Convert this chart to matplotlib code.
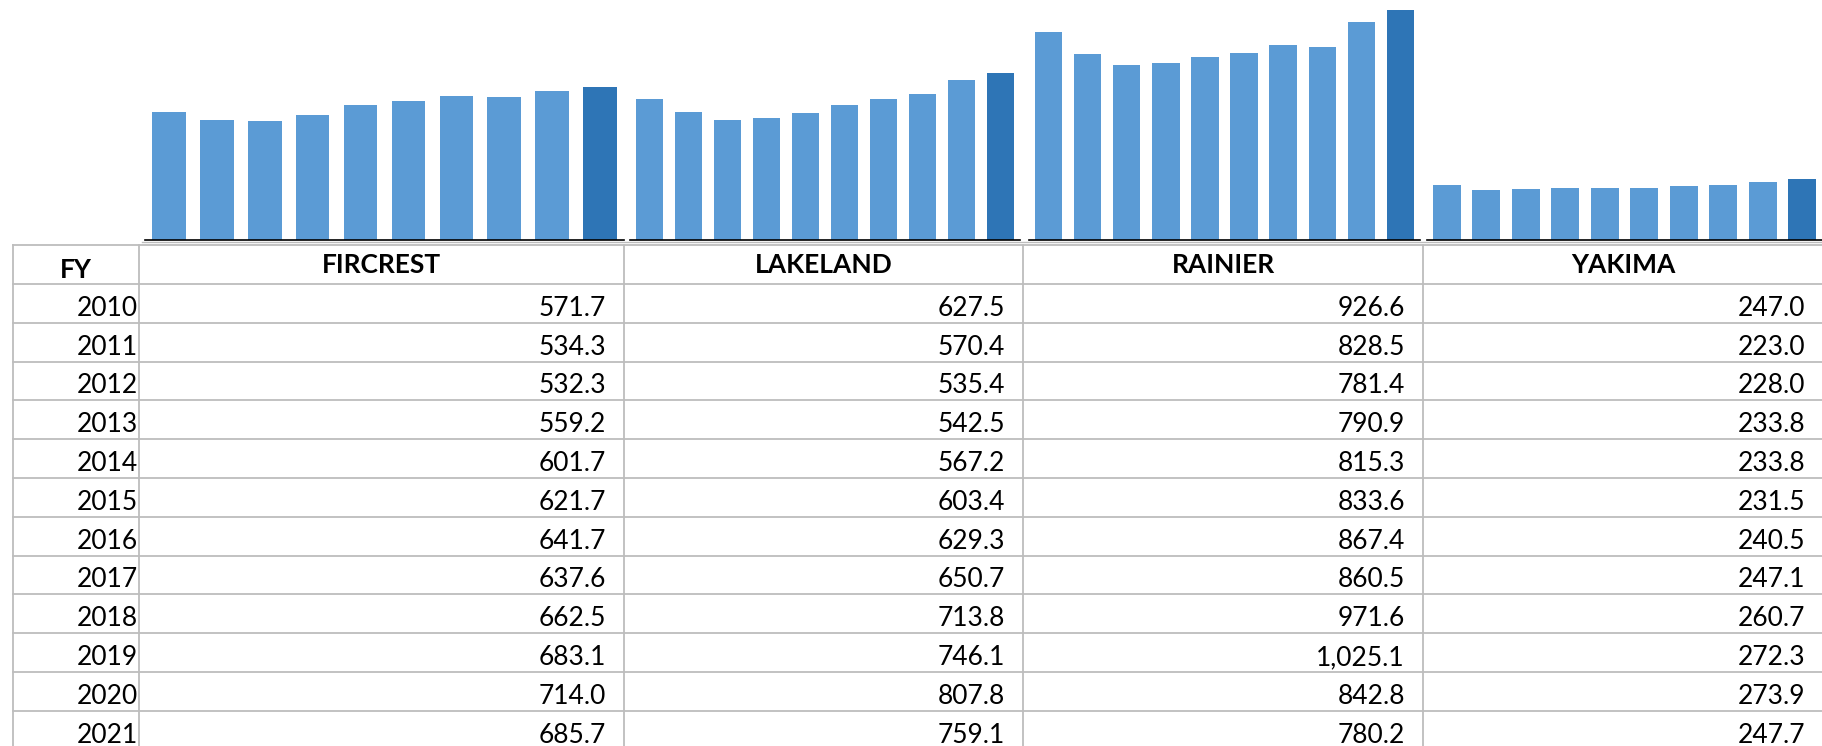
import matplotlib
matplotlib.use("Agg")
import matplotlib.pyplot as plt

# table / chart values
years = [2010, 2011, 2012, 2013, 2014, 2015, 2016, 2017, 2018, 2019, 2020, 2021]
sites = ["FIRCREST", "LAKELAND", "RAINIER", "YAKIMA"]
fircrest = [571.7, 534.3, 532.3, 559.2, 601.7, 621.7, 641.7, 637.6, 662.5, 683.1, 714.0, 685.7]
lakeland = [627.5, 570.4, 535.4, 542.5, 567.2, 603.4, 629.3, 650.7, 713.8, 746.1, 807.8, 759.1]
rainier = [926.6, 828.5, 781.4, 790.9, 815.3, 833.6, 867.4, 860.5, 971.6, 1025.1, 842.8, 780.2]
yakima = [247.0, 223.0, 228.0, 233.8, 233.8, 231.5, 240.5, 247.1, 260.7, 272.3, 273.9, 247.7]
series = [fircrest, lakeland, rainier, yakima]
n_bars = 10  # the chart only shows 2010-2019

W, H = 1822, 746
LIGHT = "#5B9BD5"
DARK = "#2E75B6"
GRID = "#BDBDBD"
FONT = "Lato"

fig = plt.figure(figsize=(W / 100, H / 100), dpi=100)
fig.patch.set_facecolor("white")

# pixel-space axes for the table
tab = fig.add_axes([0, 0, 1, 1])
tab.set_xlim(0, W)
tab.set_ylim(H, 0)
tab.axis("off")

col_edges = [13, 139, 624, 1023, 1423, 1823]
table_top = 245
header_bottom = 284
row_h = 38.8

# horizontal lines
tab.plot([142, W], [242.0, 242.0], color=GRID, lw=1.0)
tab.plot([col_edges[0], W], [table_top, table_top], color=GRID, lw=1.3)
for k in range(len(years) + 1):
    y = header_bottom + k * row_h
    tab.plot([col_edges[0], W], [y, y], color=GRID, lw=1.3)
# vertical lines
for x in col_edges:
    tab.plot([x, x], [table_top, H], color=GRID, lw=1.3)

# header
headers = ["FY"] + sites
for i, name in enumerate(headers):
    cx = (col_edges[i] + col_edges[i + 1]) / 2
    yb = header_bottom - (6 if i == 0 else 11)
    tab.text(cx, yb, name, ha="center", va="baseline",
             fontsize=19, fontweight="bold", family=FONT, color="black")

# rows
for r, yr in enumerate(years):
    yb = header_bottom + (r + 1) * row_h - 7
    tab.text(col_edges[1] - 1, yb, str(yr), ha="right", va="baseline",
             fontsize=19, family=FONT, color="black")
    for c, vals in enumerate(series):
        tab.text(col_edges[c + 2] - 18, yb, f"{vals[r]:,.1f}", ha="right",
                 va="baseline", fontsize=19, family=FONT, color="black")

# bar charts, one per column, same y scale
baseline = 240
ymax = baseline * 4.457
chart_spans = [(145, 624), (630, 1020), (1029, 1420), (1427, 1822)]
for (x0, x1), vals in zip(chart_spans, series):
    ax = fig.add_axes([x0 / W, (H - baseline) / H, (x1 - x0) / W, baseline / H])
    ax.patch.set_alpha(0)
    shown = vals[:n_bars]
    colors = [LIGHT] * (n_bars - 1) + [DARK]
    ax.bar(range(n_bars), shown, width=0.7, color=colors, zorder=2)
    ax.set_xlim(-0.5, n_bars - 0.5)
    ax.set_ylim(0, ymax)
    for s in ["top", "left", "right"]:
        ax.spines[s].set_visible(False)
    ax.spines["bottom"].set_color("black")
    ax.spines["bottom"].set_linewidth(1.2)
    ax.spines["bottom"].set_zorder(3)
    ax.set_xticks([])
    ax.set_yticks([])

fig.savefig("out.png", dpi=100, facecolor="white")
